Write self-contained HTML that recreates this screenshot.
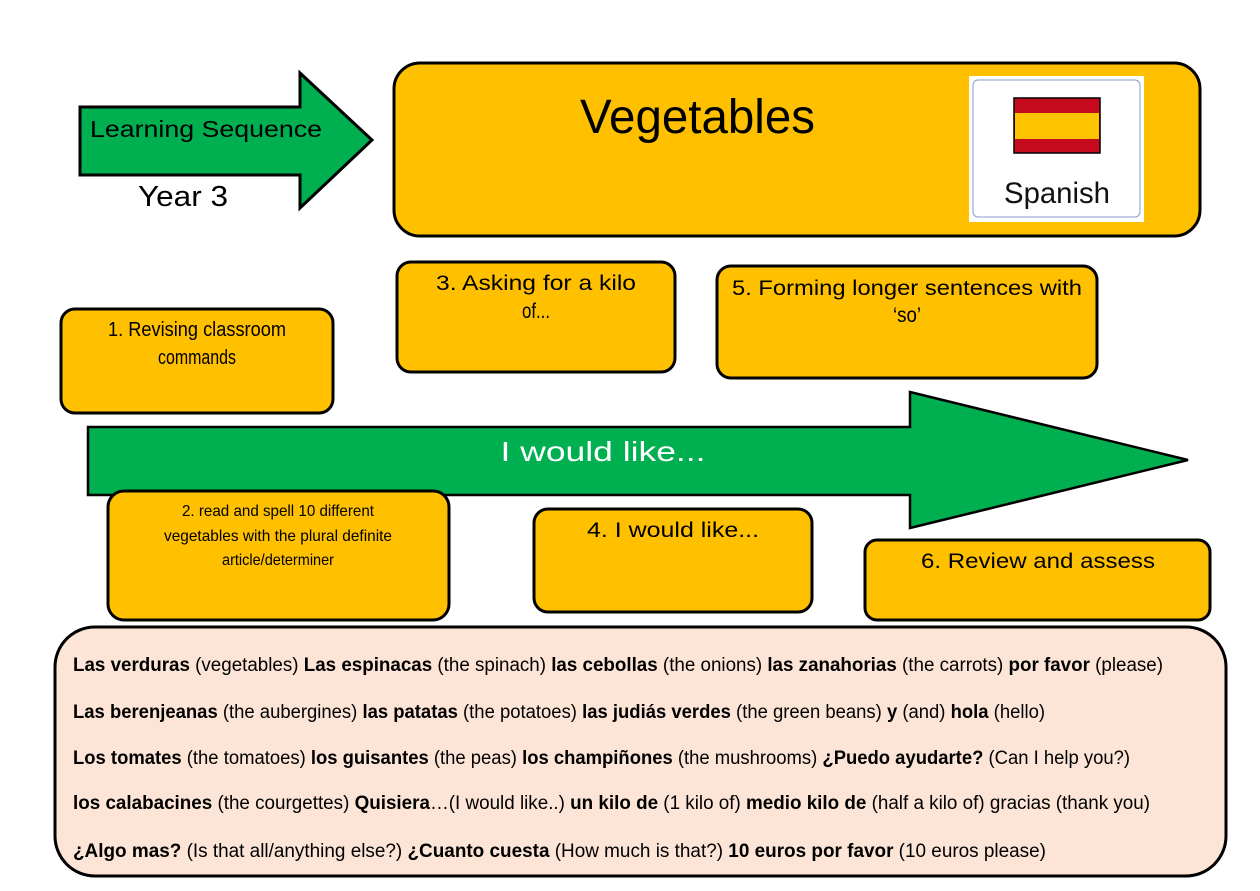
<!DOCTYPE html>
<html><head><meta charset="utf-8"><style>
html,body{margin:0;padding:0;background:#fff;}
svg{display:block;}
text{font-family:"Liberation Sans",sans-serif;}
</style></head><body>
<svg width="1260" height="891" viewBox="0 0 1260 891" xmlns="http://www.w3.org/2000/svg">
<rect width="1260" height="891" fill="#fff"/>
<!-- top arrow -->
<polygon points="80,107 300,107 300,73 372,140 300,208 300,175 80,175" fill="#00B050" stroke="#000" stroke-width="3" stroke-linejoin="miter"/>
<text x="90" y="137" font-size="23" fill="#000" textLength="232" lengthAdjust="spacingAndGlyphs">Learning Sequence</text>
<text x="138" y="206" font-size="29" fill="#000" textLength="90" lengthAdjust="spacingAndGlyphs">Year 3</text>
<!-- title box -->
<rect x="394" y="63" width="806" height="173" rx="26" fill="#FFC000" stroke="#000" stroke-width="3"/>
<text x="580" y="133" font-size="48" fill="#000" textLength="235" lengthAdjust="spacingAndGlyphs">Vegetables</text>
<rect x="969" y="76" width="175" height="146" fill="#fff"/>
<rect x="973" y="80" width="167" height="137" rx="5" fill="#fff" stroke="#8a9bc8" stroke-width="1"/>
<rect x="1014" y="98" width="86" height="55" fill="#C60B1E" stroke="#000" stroke-width="1.5"/>
<rect x="1015" y="113" width="84" height="26" fill="#FFC400"/>
<text x="1057" y="203" font-size="30" fill="#111" text-anchor="middle" textLength="106" lengthAdjust="spacingAndGlyphs">Spanish</text>
<!-- boxes -->
<rect x="61" y="309" width="272" height="104" rx="14" fill="#FFC000" stroke="#000" stroke-width="3"/>
<text x="197" y="336" font-size="20" text-anchor="middle" textLength="178" lengthAdjust="spacingAndGlyphs">1. Revising classroom</text>
<text x="197" y="364" font-size="20" text-anchor="middle" textLength="78" lengthAdjust="spacingAndGlyphs">commands</text>
<rect x="397" y="262" width="278" height="110" rx="14" fill="#FFC000" stroke="#000" stroke-width="3"/>
<text x="536" y="290" font-size="21" text-anchor="middle" textLength="200" lengthAdjust="spacingAndGlyphs">3. Asking for a kilo</text>
<text x="536" y="318" font-size="21" text-anchor="middle" textLength="28" lengthAdjust="spacingAndGlyphs">of...</text>
<rect x="717" y="266" width="380" height="112" rx="14" fill="#FFC000" stroke="#000" stroke-width="3"/>
<text x="907" y="295" font-size="21" text-anchor="middle" textLength="350" lengthAdjust="spacingAndGlyphs">5. Forming longer sentences with</text>
<text x="907" y="322" font-size="21" text-anchor="middle" textLength="28" lengthAdjust="spacingAndGlyphs">‘so’</text>
<!-- big arrow -->
<polygon points="88,427 910,427 910,392 1188,460 910,528 910,495 88,495" fill="#00B050" stroke="#000" stroke-width="2.5"/>
<text x="603" y="461" font-size="28" fill="#fff" text-anchor="middle" textLength="205" lengthAdjust="spacingAndGlyphs">I would like...</text>
<rect x="108" y="491" width="341" height="129" rx="16" fill="#FFC000" stroke="#000" stroke-width="3"/>
<text x="278" y="516" font-size="16" text-anchor="middle" textLength="192" lengthAdjust="spacingAndGlyphs">2. read and spell 10 different</text>
<text x="278" y="541" font-size="16" text-anchor="middle" textLength="228" lengthAdjust="spacingAndGlyphs">vegetables with the plural definite</text>
<text x="278" y="565" font-size="16" text-anchor="middle" textLength="112" lengthAdjust="spacingAndGlyphs">article/determiner</text>
<rect x="534" y="509" width="278" height="103" rx="14" fill="#FFC000" stroke="#000" stroke-width="3"/>
<text x="673" y="537" font-size="21" text-anchor="middle" textLength="172" lengthAdjust="spacingAndGlyphs">4. I would like...</text>
<rect x="865" y="540" width="345" height="80" rx="12" fill="#FFC000" stroke="#000" stroke-width="3"/>
<text x="1038" y="568" font-size="21" text-anchor="middle" textLength="234" lengthAdjust="spacingAndGlyphs">6. Review and assess</text>
<!-- vocab -->
<rect x="55" y="627" width="1171" height="249" rx="40" fill="#FCE4D6" stroke="#000" stroke-width="3"/>
<g font-size="19" fill="#000">
<text x="73" y="671" textLength="1090" lengthAdjust="spacingAndGlyphs"><tspan font-weight="bold">Las verduras</tspan> (vegetables)    <tspan font-weight="bold">Las espinacas</tspan>  (the spinach)   <tspan font-weight="bold">las cebollas</tspan> (the onions) <tspan font-weight="bold">las zanahorias</tspan> (the carrots) <tspan font-weight="bold">por favor</tspan> (please)</text>
<text x="73" y="718" textLength="972" lengthAdjust="spacingAndGlyphs"><tspan font-weight="bold">Las berenjeanas</tspan> (the aubergines)   <tspan font-weight="bold">las patatas</tspan> (the potatoes)  <tspan font-weight="bold">las judiás verdes</tspan> (the green beans)  <tspan font-weight="bold">y</tspan> (and)  <tspan font-weight="bold">hola</tspan> (hello)</text>
<text x="73" y="764" textLength="1057" lengthAdjust="spacingAndGlyphs"><tspan font-weight="bold">Los tomates</tspan> (the tomatoes)  <tspan font-weight="bold">los guisantes</tspan> (the peas)  <tspan font-weight="bold">los champiñones</tspan> (the mushrooms)  <tspan font-weight="bold">¿Puedo ayudarte?</tspan> (Can I help you?)</text>
<text x="73" y="809" textLength="1077" lengthAdjust="spacingAndGlyphs"><tspan font-weight="bold">los calabacines</tspan> (the courgettes) <tspan font-weight="bold">Quisiera</tspan>…(I would like..) <tspan font-weight="bold">un kilo de</tspan> (1 kilo of)  <tspan font-weight="bold">medio kilo de</tspan> (half a kilo of)  gracias (thank you)</text>
<text x="73" y="857" textLength="973" lengthAdjust="spacingAndGlyphs"><tspan font-weight="bold">¿Algo mas?</tspan> (Is that all/anything else?)  <tspan font-weight="bold">¿Cuanto cuesta</tspan> (How much is that?) <tspan font-weight="bold">10 euros por favor</tspan> (10 euros please)</text>
</g>
</svg>
</body></html>
